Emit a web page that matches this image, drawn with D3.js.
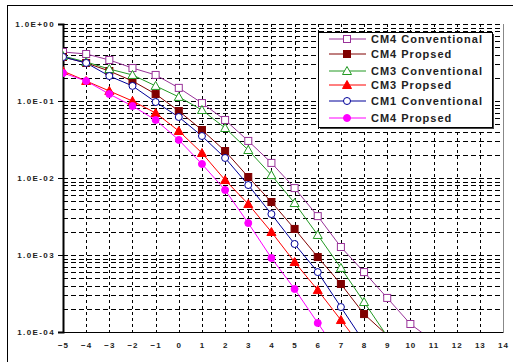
<!DOCTYPE html>
<html>
<head>
<meta charset="utf-8">
<script src="https://cdn.jsdelivr.net/npm/d3@7"></script>
<style>
html,body{margin:0;padding:0;background:#fff;}
svg{display:block;}
</style>
</head>
<body>
<svg id="chart" width="513" height="362"></svg>
<script>
// ---- data ----
const xTicks = [-5,-4,-3,-2,-1,0,1,2,3,4,5,6,7,8,9,10,11,12,13,14];
const yTickValues = [1, 0.1, 0.01, 0.001, 0.0001];
const yTickLabels = ["1.0E+00","1.0E-01","1.0E-02","1.0E-03","1.0E-04"];
const seriesNames = ["CM4 Conventional","CM4 Propsed","CM3 Conventional","CM3 Propsed","CM1 Conventional","CM4 Propsed"];
const cm4Conv = [0.433,0.408,0.341,0.268,0.218,0.148,0.094,0.0567,0.0303,0.0157,0.0074,0.0032,0.00127,0.0006,0.000277,0.000127,0.000076];
const cm4Prop = [0.373,0.312,0.245,0.182,0.123,0.0741,0.042,0.0224,0.0103,0.00488,0.00218,0.00094,0.00042,0.000171,0.000091];
const cm3Conv = [0.384,0.321,0.260,0.218,0.157,0.113,0.0764,0.0446,0.0231,0.0109,0.00473,0.00182,0.00068,0.000245,0.000088];
const cm3Prop = [0.245,0.182,0.135,0.1,0.0699,0.0408,0.0211,0.0094,0.00459,0.00199,0.00081,0.00035,0.000143,0.000058];
const cm1Conv = [0.373,0.312,0.211,0.157,0.097,0.062,0.0351,0.0182,0.0081,0.0034,0.00139,0.0006,0.000211,0.000074];
const cm4Prop2 = [0.231,0.182,0.123,0.0861,0.0567,0.0312,0.0152,0.00698,0.0026,0.000914,0.000362,0.000131,0.000048];
const xStart = -5;

const series = [
  {name: seriesNames[0], values: cm4Conv, color: "#993399", marker: "square", filled: false},
  {name: seriesNames[1], values: cm4Prop, color: "#800000", marker: "square", filled: true},
  {name: seriesNames[2], values: cm3Conv, color: "#229922", marker: "triangle", filled: false},
  {name: seriesNames[3], values: cm3Prop, color: "#ff0000", marker: "triangle", filled: true},
  {name: seriesNames[4], values: cm1Conv, color: "#000099", marker: "circle", filled: false},
  {name: seriesNames[5], values: cm4Prop2, color: "#ff00ff", marker: "circle", filled: true}
];

// ---- layout ----
const L = 63, R = 503, T = 24, B = 332;
const FONT = "Liberation Sans, Arial, sans-serif";
const svg = d3.select("#chart");
const x = d3.scaleLinear().domain([-5,14]).range([L,R]);
const y = d3.scaleLog().domain([1e-4,1]).range([B,T]);

// outer frame
svg.append("rect").attr("x",7.5).attr("y",5.5).attr("width",540).attr("height",400)
  .attr("fill","none").attr("stroke","#000").attr("stroke-width",1);

// grid: horizontal minor/major
const hGrid = [];
for (let e=-4; e<0; e++) for (let m=1; m<10; m++) hGrid.push(m*Math.pow(10,e));
hGrid.push(1);
svg.append("g").selectAll("line").data(hGrid.filter(v=>v>1e-4)).join("line")
  .attr("x1",L).attr("x2",R)
  .attr("y1",d=>Math.round(y(d))+0.5).attr("y2",d=>Math.round(y(d))+0.5)
  .attr("stroke","#000").attr("stroke-width",1).attr("stroke-dasharray","5,3");
// vertical grid
svg.append("g").selectAll("line").data(xTicks.filter(v=>v>-5 && v<14)).join("line")
  .attr("x1",d=>Math.round(x(d))+0.5).attr("x2",d=>Math.round(x(d))+0.5)
  .attr("y1",T).attr("y2",B)
  .attr("stroke","#000").attr("stroke-width",1).attr("stroke-dasharray","3,3");

// plot border right
svg.append("line").attr("x1",R+0.5).attr("x2",R+0.5).attr("y1",T).attr("y2",B).attr("stroke","#888");

// axes
const yAxis = d3.axisLeft(y).tickValues(yTickValues).tickSize(5).tickPadding(3).tickFormat((d,i)=>yTickLabels[i]);
const gy = svg.append("g").attr("transform",`translate(${L},0)`).call(yAxis);
gy.select(".domain").attr("stroke","#000").attr("stroke-width",2);
gy.selectAll("text").attr("font-family",FONT).attr("font-size","8px")
  .attr("font-weight","bold").attr("fill","#222").attr("letter-spacing","1.4px");

const xAxis = d3.axisBottom(x).tickValues(xTicks).tickSize(0).tickPadding(10).tickFormat(d3.format("d"));
const gx = svg.append("g").attr("transform",`translate(0,${B})`).call(xAxis);
gx.select(".domain").attr("stroke","#000").attr("stroke-width",1.2);
gx.selectAll("text").attr("font-family",FONT).attr("font-size","8px")
  .attr("font-weight","bold").attr("fill","#222").attr("letter-spacing","1px");

// clip
svg.append("clipPath").attr("id","clip").append("rect").attr("x",L).attr("y",T).attr("width",R-L).attr("height",B-T);

const line = d3.line().x((d,i)=>x(xStart+i)).y(d=>y(d));

function drawMarker(g, type, cx, cy, color, filled){
  const fill = filled ? color : "#fff";
  if (type==="square") {
    g.append("rect").attr("x",cx-3.5).attr("y",cy-3.5).attr("width",7).attr("height",7)
      .attr("fill",fill).attr("stroke",color).attr("stroke-width",1);
  } else if (type==="triangle") {
    g.append("path").attr("d",`M${cx},${cy-4.5}L${cx+4.5},${cy+3.5}L${cx-4.5},${cy+3.5}Z`)
      .attr("fill",fill).attr("stroke",color).attr("stroke-width",1);
  } else {
    g.append("circle").attr("cx",cx).attr("cy",cy).attr("r",3.5)
      .attr("fill",fill).attr("stroke",color).attr("stroke-width",1);
  }
}

const plot = svg.append("g").attr("clip-path","url(#clip)");
series.forEach(s=>{
  plot.append("path").attr("d",line(s.values)).attr("fill","none").attr("stroke",s.color).attr("stroke-width",1);
});
series.forEach(s=>{
  const g = plot.append("g");
  s.values.forEach((v,i)=>{
    const px = x(xStart+i), py = y(v);
    if (py <= B+1) drawMarker(g, s.marker, px, py, s.color, s.filled);
  });
});

// legend
const lg = svg.append("g");
lg.append("rect").attr("x",320).attr("y",34).attr("width",174).attr("height",95).attr("fill","#444");
lg.append("rect").attr("x",318.5).attr("y",32.5).attr("width",174).attr("height",95)
  .attr("fill","#fff").attr("stroke","#000").attr("stroke-width",1);
const rowY = [39,54,71,85,101,118];
series.forEach((s,i)=>{
  const ry = rowY[i];
  lg.append("line").attr("x1",329).attr("x2",366).attr("y1",ry).attr("y2",ry).attr("stroke",s.color).attr("stroke-width",1);
  drawMarker(lg, s.marker, 347, ry, s.color, s.filled);
  lg.append("text").attr("x",371).attr("y",ry+4).text(s.name)
    .attr("font-family",FONT).attr("font-size","11px")
    .attr("font-weight","bold").attr("fill","#222").attr("letter-spacing","1px");
});
</script>
</body>
</html>
